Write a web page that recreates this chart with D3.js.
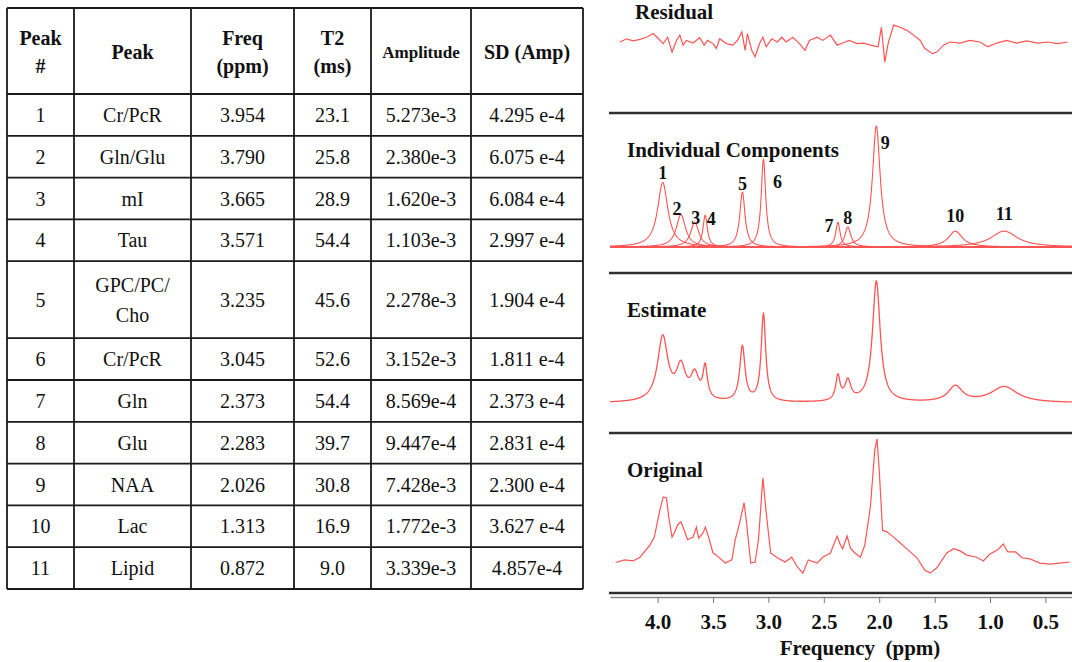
<!DOCTYPE html>
<html>
<head>
<meta charset="utf-8">
<script src="https://cdn.jsdelivr.net/npm/d3@7"></script>
<style>
body { margin: 0; background: #fff; }
svg { display: block; }
</style>
</head>
<body>
<div id="chart"></div>
<script>
// ---- table data (fit results)
const headers = [['Peak', '#'], ['Peak'], ['Freq', '(ppm)'], ['T2', '(ms)'], ['Amplitude'], ['SD (Amp)']];
const peakNo = [1, 2, 3, 4, 5, 6, 7, 8, 9, 10, 11];
const peakName = ['Cr/PcR', 'Gln/Glu', 'mI', 'Tau', 'GPC/PC/|Cho', 'Cr/PcR', 'Gln', 'Glu', 'NAA', 'Lac', 'Lipid'];
const freqPpm = [3.954, 3.790, 3.665, 3.571, 3.235, 3.045, 2.373, 2.283, 2.026, 1.313, 0.872];
const t2Ms = [23.1, 25.8, 28.9, 54.4, 45.6, 52.6, 54.4, 39.7, 30.8, 16.9, 9.0];
const amplitude = [5.273e-3, 2.380e-3, 1.620e-3, 1.103e-3, 2.278e-3, 3.152e-3, 8.569e-4, 9.447e-4, 7.428e-3, 1.772e-3, 3.339e-3];
const sdAmp = ['4.295 e-4', '6.075 e-4', '6.084 e-4', '2.997 e-4', '1.904 e-4', '1.811 e-4', '2.373 e-4', '2.831 e-4', '2.300 e-4', '3.627 e-4', '4.857e-4'];

const originalSpec = [
    [4.38, -0.001], [4.30, 0.004], [4.22, 0.002], [4.16, 0.009], [4.07, 0.032], [4.03, 0.047],
    [3.98, 0.098], [3.95, 0.123], [3.92, 0.121], [3.90, 0.085], [3.87, 0.047], [3.85, 0.055],
    [3.82, 0.070], [3.79, 0.076], [3.76, 0.060], [3.73, 0.042], [3.68, 0.047], [3.65, 0.066],
    [3.63, 0.045], [3.59, 0.055], [3.57, 0.066], [3.54, 0.047], [3.50, 0.017], [3.47, 0.013],
    [3.39, -0.002], [3.33, 0.004], [3.30, 0.042], [3.26, 0.074], [3.22, 0.112], [3.20, 0.079],
    [3.16, -0.002], [3.12, 0.000], [3.09, 0.042], [3.05, 0.159], [3.02, 0.093], [2.98, 0.017],
    [2.92, 0.008], [2.85, 0.000], [2.79, 0.009], [2.74, -0.009], [2.69, -0.021], [2.64, 0.004],
    [2.56, -0.002], [2.51, 0.009], [2.44, 0.017], [2.42, 0.028], [2.38, 0.049], [2.35, 0.032],
    [2.33, 0.025], [2.29, 0.049], [2.26, 0.026], [2.22, 0.017], [2.17, 0.009], [2.13, 0.032],
    [2.08, 0.104], [2.04, 0.212], [2.02, 0.233], [2.00, 0.174], [1.97, 0.060], [1.93, 0.057],
    [1.87, 0.047], [1.81, 0.036], [1.74, 0.023], [1.66, 0.008], [1.59, -0.015], [1.54, -0.021],
    [1.48, -0.011], [1.39, 0.017], [1.33, 0.025], [1.27, 0.021], [1.21, 0.013], [1.12, 0.009],
    [1.06, 0.002], [1.00, 0.015], [0.93, 0.023], [0.88, 0.034], [0.84, 0.019], [0.77, 0.019],
    [0.71, 0.008], [0.64, 0.006], [0.55, -0.002], [0.46, -0.004], [0.37, -0.002], [0.28, 0.000]
];
const residualSpec = [
    [4.34, 0.000], [4.28, 0.006], [4.22, 0.002], [4.16, 0.005], [4.10, 0.009], [4.04, 0.016],
    [4.00, 0.008], [3.95, -0.003], [3.91, 0.009], [3.87, -0.019], [3.83, 0.003], [3.80, 0.013],
    [3.77, -0.006], [3.74, 0.003], [3.68, -0.002], [3.62, 0.008], [3.58, -0.006], [3.55, 0.003],
    [3.50, -0.003], [3.47, -0.012], [3.44, 0.006], [3.38, -0.003], [3.32, -0.006], [3.28, 0.003],
    [3.24, 0.019], [3.21, -0.016], [3.19, 0.016], [3.15, -0.016], [3.12, -0.028], [3.08, -0.003],
    [3.05, 0.009], [3.02, -0.009], [2.97, 0.006], [2.92, 0.000], [2.88, 0.009], [2.84, 0.000],
    [2.78, 0.009], [2.72, -0.003], [2.67, -0.016], [2.63, 0.003], [2.56, 0.009], [2.51, 0.003],
    [2.44, 0.013], [2.38, -0.006], [2.33, -0.002], [2.27, 0.003], [2.20, -0.003], [2.14, -0.002],
    [2.08, -0.006], [2.01, -0.009], [1.98, 0.028], [1.95, -0.038], [1.92, -0.003], [1.87, 0.032],
    [1.81, 0.028], [1.75, 0.022], [1.69, 0.013], [1.63, 0.003], [1.59, -0.012], [1.52, -0.022],
    [1.48, -0.019], [1.42, -0.006], [1.36, 0.000], [1.27, -0.002], [1.18, 0.003], [1.09, 0.000],
    [1.02, -0.009], [0.94, -0.002], [0.85, 0.003], [0.76, -0.002], [0.67, 0.002], [0.57, -0.002],
    [0.48, 0.000], [0.39, -0.003], [0.30, 0.000]
];
const axisTicks = [4.0, 3.5, 3.0, 2.5, 2.0, 1.5, 1.0, 0.5];
const panelNames = ['Residual', 'Individual Components', 'Estimate', 'Original'];

const W = 1072, H = 662;
const serif = '"Liberation Serif", "Times New Roman", Times, serif';
const red = '#ff5454';

const svg = d3.select('#chart').append('svg')
    .attr('width', W)
    .attr('height', H)
    .style('font-family', serif);

// ================= table =================
const colX = [7, 74, 191, 294, 371, 471, 583];
const tableTop = 8, headH = 86, rowH = 41.8, tallRowH = 77;

const rows = peakNo.map((n, i) => ({
    cells: [String(n), peakName[i], d3.format('.3f')(freqPpm[i]), d3.format('.1f')(t2Ms[i]),
        d3.format('.3e')(amplitude[i]), sdAmp[i]]
}));
let yy = tableTop + headH;
rows.forEach(r => {
    r.h = r.cells[1].includes('|') ? tallRowH : rowH;
    r.y0 = yy;
    yy += r.h;
});
const tableBottom = yy;

const tbl = svg.append('g').attr('class', 'table');
const colMid = i => (colX[i] + colX[i + 1]) / 2;

// header cells
headers.forEach((lines, c) => {
    const cy = tableTop + headH / 2 + 1;
    const gap = 28;
    lines.forEach((t, k) => {
        tbl.append('text')
            .attr('x', colMid(c))
            .attr('y', cy + (k - (lines.length - 1) / 2) * gap)
            .attr('dy', '0.35em')
            .attr('text-anchor', 'middle')
            .attr('font-weight', 'bold')
            .attr('font-size', t === 'Amplitude' ? 17 : 20)
            .attr('fill', '#111')
            .text(t);
    });
});

// body cells
const rowG = tbl.selectAll('.row')
    .data(rows)
    .enter().append('g')
    .attr('class', 'row');
rowG.each(function(r) {
    const g = d3.select(this);
    r.cells.forEach((t, c) => {
        const lines = t.split('|');
        lines.forEach((s, k) => {
            g.append('text')
                .attr('x', colMid(c))
                .attr('y', r.y0 + r.h / 2 + (k - (lines.length - 1) / 2) * 30)
                .attr('dy', '0.35em')
                .attr('text-anchor', 'middle')
                .attr('font-size', 20)
                .attr('fill', '#111')
                .text(s);
        });
    });
});

// grid lines
const hLines = [tableTop, tableTop + headH].concat(rows.map(r => r.y0 + r.h));
tbl.selectAll('.hl')
    .data(hLines)
    .enter().append('line')
    .attr('x1', colX[0])
    .attr('x2', colX[colX.length - 1])
    .attr('y1', d => d)
    .attr('y2', d => d)
    .attr('stroke', '#1a1a1a')
    .attr('stroke-width', 1.8);
tbl.selectAll('.vl')
    .data(colX)
    .enter().append('line')
    .attr('x1', d => d)
    .attr('x2', d => d)
    .attr('y1', tableTop)
    .attr('y2', tableBottom)
    .attr('stroke', '#1a1a1a')
    .attr('stroke-width', 1.8);

// ================= spectra =================
const x = d3.scaleLinear().domain([4.43, 0.26]).range([610, W]);
const pxPerUnit = 529;
const yScale = base => d3.scaleLinear().domain([0, 0.25]).range([base, base - 0.25 * pxPerUnit]);
const yRes = yScale(42), yComp = yScale(247), yEst = yScale(403), yOrig = yScale(562);

// Lorentzian line for a fitted peak (scanner frequency 123.2 MHz)
const f0 = 123.2;
const lorentz = (ppm, i) => {
    const h = amplitude[i] * t2Ms[i];
    const hw = 1 / (2 * Math.PI * (t2Ms[i] / 1000) * f0);
    const u = (ppm - freqPpm[i]) / hw;
    return h / (1 + u * u);
};
const grid = d3.range(4.43, 0.259, -0.003);

const spec = svg.append('g').attr('class', 'spectra');

// separators / frame lines
spec.selectAll('.sep')
    .data([113, 273, 433, 593])
    .enter().append('line')
    .attr('x1', 609)
    .attr('x2', W)
    .attr('y1', d => d)
    .attr('y2', d => d)
    .attr('stroke', '#2e2e2e')
    .attr('stroke-width', 2.4);

// panel titles
const titlePos = [[635, 19], [627, 157], [627, 317], [627, 477]];
spec.selectAll('.ptitle')
    .data(panelNames)
    .enter().append('text')
    .attr('x', (d, i) => titlePos[i][0])
    .attr('y', (d, i) => titlePos[i][1])
    .attr('font-size', 21)
    .attr('font-weight', 'bold')
    .attr('fill', '#111')
    .text(d => d);

const lineFrom = ys => d3.line().x(d => x(d[0])).y(d => ys(d[1]));

// residual
spec.append('path')
    .datum(residualSpec)
    .attr('fill', 'none')
    .attr('stroke', red)
    .attr('stroke-width', 1.2)
    .attr('d', lineFrom(yRes));

// individual components
spec.append('line')
    .attr('x1', 615)
    .attr('x2', W)
    .attr('y1', yComp(0))
    .attr('y2', yComp(0))
    .attr('stroke', '#ff1a1a')
    .attr('stroke-width', 2);
spec.selectAll('.comp')
    .data(peakNo.map((n, i) => i))
    .enter().append('path')
    .attr('fill', 'none')
    .attr('stroke', red)
    .attr('stroke-width', 1.1)
    .attr('d', i => lineFrom(yComp)(grid.map(p => [p, lorentz(p, i)])));

const labelNudge = [[0, -10], [-4, -6], [1, -5], [6, 3], [0, -8], [14, 22], [-9, 3], [0, -9], [9, 17], [0, -15], [0, -17]];
spec.selectAll('.plabel')
    .data(peakNo)
    .enter().append('text')
    .attr('x', (d, i) => x(freqPpm[i]) + labelNudge[i][0])
    .attr('y', (d, i) => yComp(amplitude[i] * t2Ms[i]) + labelNudge[i][1])
    .attr('dy', '0.35em')
    .attr('text-anchor', 'middle')
    .attr('font-size', 18)
    .attr('font-weight', 'bold')
    .attr('fill', '#111')
    .text(d => d);

// estimate = sum of components
spec.append('path')
    .datum(grid.map(p => [p, d3.sum(peakNo, (n, i) => lorentz(p, i))]))
    .attr('fill', 'none')
    .attr('stroke', red)
    .attr('stroke-width', 1.3)
    .attr('d', lineFrom(yEst));

// original
spec.append('path')
    .datum(originalSpec)
    .attr('fill', 'none')
    .attr('stroke', red)
    .attr('stroke-width', 1.2)
    .attr('d', lineFrom(yOrig));

// frequency axis
const axisG = spec.append('g')
    .attr('transform', 'translate(0,597)')
    .call(d3.axisBottom(x).tickValues(axisTicks).tickFormat(d3.format('.1f'))
        .tickSizeInner(6).tickSizeOuter(0).tickPadding(11));
axisG.select('.domain').attr('stroke', '#8a8a8a').attr('stroke-width', 1.4);
axisG.selectAll('.tick line').attr('stroke', '#777');
axisG.selectAll('.tick text')
    .attr('font-family', serif)
    .attr('font-size', 21)
    .attr('font-weight', 'bold')
    .attr('fill', '#111');

spec.append('text')
    .attr('x', 860)
    .attr('y', 655)
    .attr('text-anchor', 'middle')
    .attr('font-size', 21)
    .attr('font-weight', 'bold')
    .attr('fill', '#111')
    .text('Frequency\u00a0 (ppm)');
</script>
</body>
</html>
